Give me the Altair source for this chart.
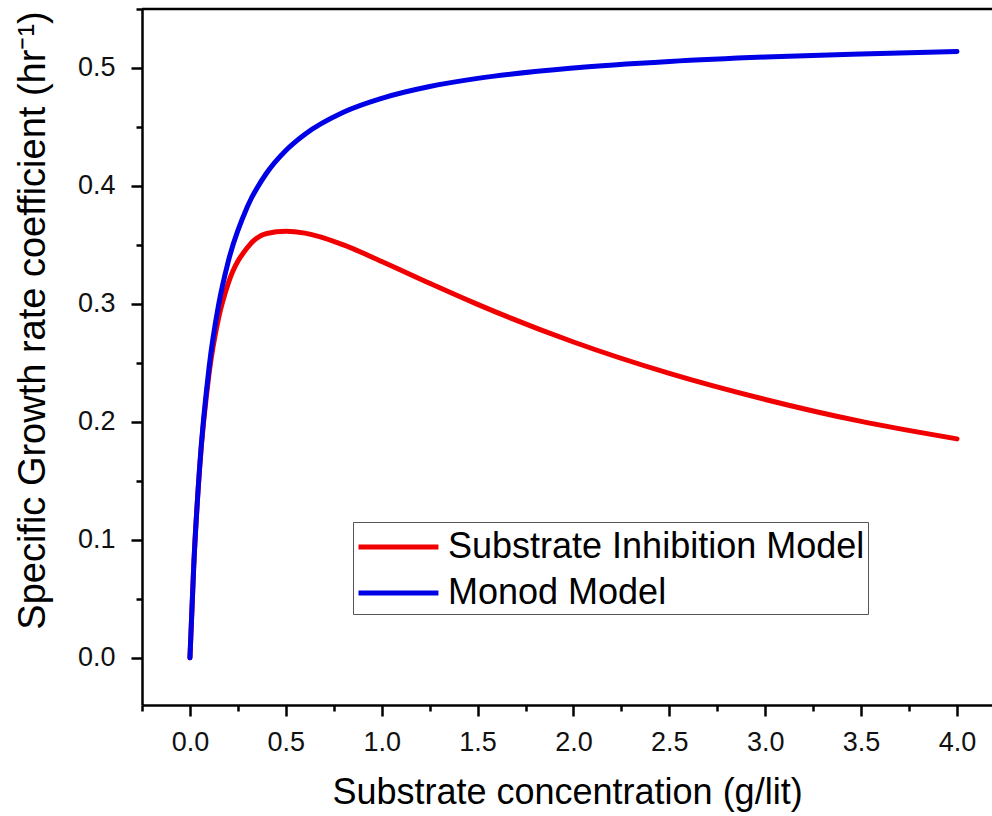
import altair as alt
import pandas as pd

# Substrate concentration (g/lit) sample points
S = [0.0, 0.02, 0.05, 0.1, 0.15, 0.2, 0.3, 0.4, 0.5, 0.6, 0.8, 1.0, 1.25, 1.5, 2.0, 2.5, 3.0, 3.5, 4.0]
# Specific growth rate coefficient (hr^-1)
inhibition = [0.0, 0.0785, 0.1595, 0.2412, 0.2885, 0.3176, 0.3479, 0.3597, 0.3615, 0.3600, 0.3501,
              0.3360, 0.3175, 0.2996, 0.2677, 0.2411, 0.2190, 0.2004, 0.1856]
monod = [0.0, 0.0786, 0.1606, 0.2464, 0.2997, 0.3361, 0.3826, 0.4110, 0.4301, 0.4439, 0.4625,
         0.4743, 0.4843, 0.4912, 0.5000, 0.5055, 0.5093, 0.5119, 0.5140]
series = ["Substrate Inhibition Model", "Monod Model"]
colors = ["#f00000", "#0000e6"]

x_ticks = [-0.25, 0.0, 0.25, 0.5, 0.75, 1.0, 1.25, 1.5, 1.75, 2.0, 2.25, 2.5, 2.75, 3.0, 3.25, 3.5, 3.75, 4.0]
y_ticks = [0.0, 0.05, 0.1, 0.15, 0.2, 0.25, 0.3, 0.35, 0.4, 0.45, 0.5, 0.55]

rows = []
for name, vals in zip(series, [inhibition, monod]):
    for s, v in zip(S, vals):
        rows.append({"S": s, "mu": v, "model": name})
df = pd.DataFrame(rows)

FONT = "Liberation Sans"

x_major = "datum.value % 0.5 === 0"
y_major = "abs(datum.value*10 - round(datum.value*10)) < 1e-6"

lines = alt.Chart(df).mark_line(strokeWidth=5, strokeCap="round", interpolate="monotone").encode(
    x=alt.X("S:Q", scale=alt.Scale(domain=[-0.25, 4.1825], nice=False, zero=False),
            axis=alt.Axis(title="Substrate concentration (g/lit)", values=x_ticks,
                          labelExpr=f"{x_major} ? format(datum.value, '.1f') : ''",
                          tickSize={"condition": {"test": x_major, "value": 11}, "value": 6},
                          labelPadding=13, titlePadding=20, titleFontSize=36)),
    y=alt.Y("mu:Q", scale=alt.Scale(domain=[-0.04, 0.55], nice=False, zero=False),
            axis=alt.Axis(title="Specific Growth rate coefficient (hr\u207b\u00b9)", values=y_ticks,
                          labelExpr=f"{y_major} ? format(datum.value, '.1f') : ''",
                          tickSize={"condition": {"test": y_major, "value": 11}, "value": 6},
                          labelPadding=16, titleFontSize=38, titleX=-90, titleY=311,
                          titleBaseline="bottom")),
    color=alt.Color("model:N", scale=alt.Scale(domain=series, range=colors), sort=series,
                    legend=alt.Legend(title=None, orient="none", legendX=211, legendY=513,
                                      symbolType="M-1,0H3.1", symbolSize=1521, symbolStrokeWidth=5,
                                      labelFontSize=36, labelOffset=48, padding=3, rowPadding=6,
                                      strokeColor="#555555", labelColor="black", labelFont=FONT,
                                      labelLimit=0)),
)

top_rule = alt.Chart(pd.DataFrame({"v": [0]})).mark_rule(color="black", strokeWidth=2.5).encode(
    y=alt.value(0)
)

chart = alt.layer(lines, top_rule).properties(
    width=850, height=696,
    padding={"left": 142, "top": 9, "right": 0, "bottom": 111},
    autosize=alt.AutoSizeParams(type="none"),
).configure(font=FONT).configure_view(stroke=None).configure_axis(
    grid=False, domainColor="black", domainWidth=2.5, tickColor="black", tickWidth=2.5,
    labelColor="#111111", titleColor="black", labelFont=FONT, titleFont=FONT,
    labelFontSize=27, titleFontWeight="normal",
)

chart.save("out.html", embed_options={"renderer": "svg", "actions": False})
